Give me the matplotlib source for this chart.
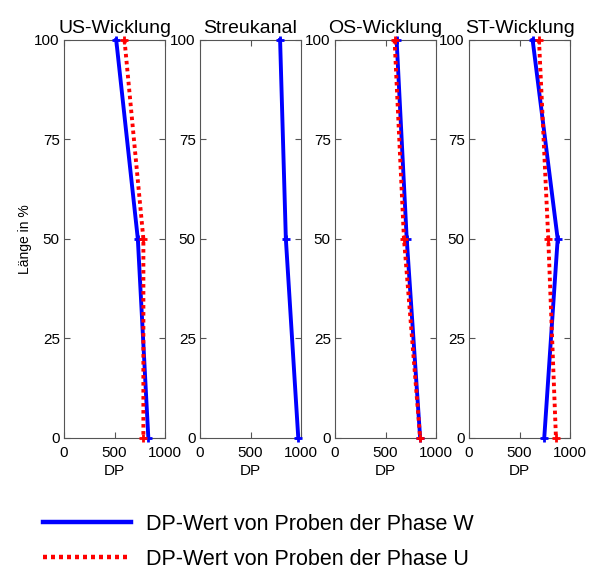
import numpy as np
import matplotlib
matplotlib.use("Agg")
import matplotlib.pyplot as plt

plt.rcParams['font.family'] = ['Liberation Sans', 'DejaVu Sans']

# Position along the winding (%) and DP values per panel
laenge = [100, 50, 0]
titles = ["US-Wicklung", "Streukanal", "OS-Wicklung", "ST-Wicklung"]
dp_w = [[517, 731, 835],
        [793, 850, 973],
        [610, 710, 843],
        [630, 878, 745]]
dp_u = [[599, 786, 786],
        None,
        [590, 683, 843],
        [693, 785, 861]]
label_w = "DP-Wert von Proben der Phase W"
label_u = "DP-Wert von Proben der Phase U"

fig = plt.figure(figsize=(5.95, 5.71), dpi=100)

lefts = [64, 200, 335, 469]
axes = []
for i in range(4):
    ax = fig.add_axes([lefts[i] / 595, 0.233, 101 / 595, 0.697])
    axes.append(ax)
    ax.plot(dp_w[i], laenge, color='#0000ff', lw=2.8, marker='+', ms=6,
            mew=2, clip_on=False, zorder=3)
    if dp_u[i] is not None:
        ax.plot(dp_u[i], laenge, color='#ff0000', lw=2.8, ls=(0, (0.9, 0.9)),
                marker='+', ms=6, mew=2, clip_on=False, zorder=4)
    ax.set_xlim(0, 1000)
    ax.set_ylim(0, 100)
    ax.set_xticks([0, 500, 1000])
    ax.set_yticks([0, 25, 50, 75, 100])
    ax.tick_params(direction='in', top=True, right=True, length=4,
                   labelsize=11, labelcolor='#000000', color='#555555')
    ax.tick_params(axis='x', pad=6)
    ax.tick_params(axis='y', pad=3)
    for s in ax.spines.values():
        s.set_color('#555555')
    ax.set_title(titles[i], fontsize=14, pad=5)
    ax.set_xlabel("DP", fontsize=11, labelpad=3)

axes[0].set_ylabel("Länge in %", fontsize=10, labelpad=2)

# legend handles without markers
h_w = plt.Line2D([], [], color='#0000ff', lw=3.2)
h_u = plt.Line2D([], [], color='#ff0000', lw=3.2, ls=(0, (0.9, 0.9)))
fig.legend([h_w, h_u], [label_w, label_u], loc='upper left',
           bbox_to_anchor=(43 / 595, 1 - 514 / 571), frameon=False,
           fontsize=15.5, handlelength=4.1, handletextpad=0.7,
           labelspacing=0.64, borderpad=0, borderaxespad=0)

fig.savefig("out.png", dpi=100)
